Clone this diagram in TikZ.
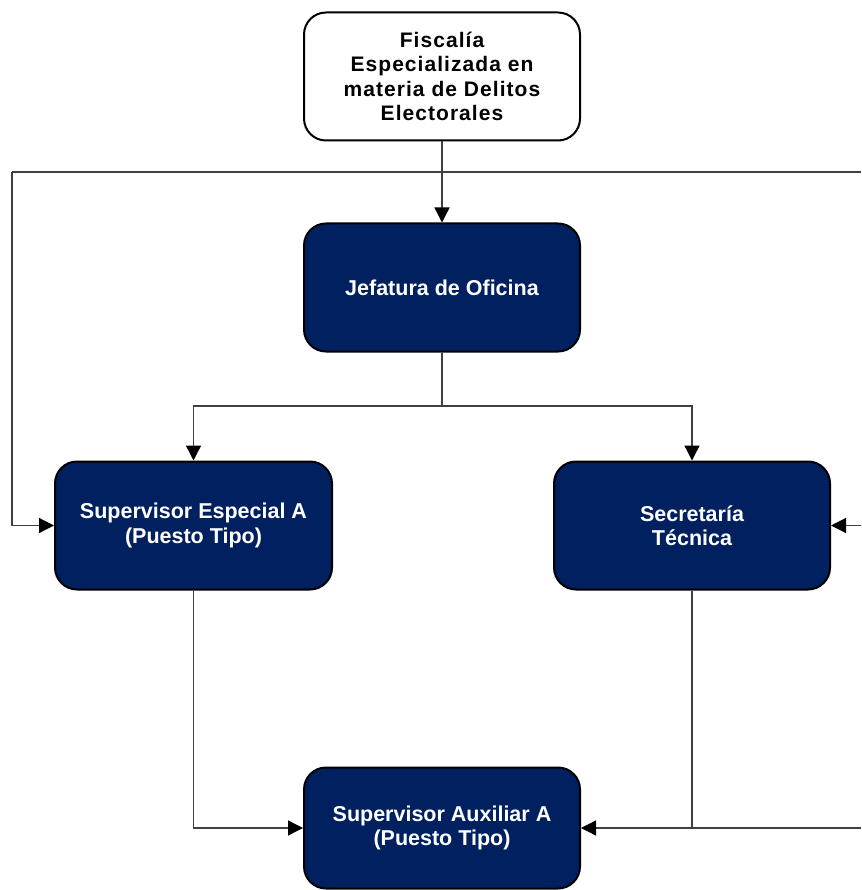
\documentclass[tikz,border=0pt]{standalone}
\usepackage{fontspec}
\setmainfont{Liberation Sans}
\newfontfamily\spacedfont[LetterSpace=5]{Liberation Sans}
\usetikzlibrary{arrows.meta}
\definecolor{navy}{HTML}{002060}
\definecolor{linegray}{HTML}{404040}
\tikzset{
  boxbase/.style={draw=black, line width=2pt, rounded corners=22pt, minimum width=276pt, minimum height=128pt, align=center, inner sep=4pt, font=\bfseries\fontsize{21.5}{24.5}\selectfont},
  whitebox/.style={boxbase, fill=white, text=black, font=\spacedfont\bfseries\fontsize{21}{24.5}\selectfont},
  navybox/.style={boxbase, fill=navy, text=white},
  conn/.style={draw=linegray, line width=1.3pt},
  arr/.style={conn, -{Triangle[length=15pt,width=15pt,fill=black,color=black]}}
}
\begin{document}
\begin{tikzpicture}[x=1pt,y=-1pt]
\useasboundingbox (0,0) rectangle (861,890);
% nodes
\node[whitebox] (fis) at (442,76.5) {Fiscalía\\Especializada en\\materia de Delitos\\Electorales};
\node[navybox] (jef) at (442,287.5) {Jefatura de Oficina};
\node[navybox, minimum width=277pt] (sup) at (193.5,525.5) {Supervisor Especial A\\(Puesto Tipo)};
\node[navybox] (sec) at (692,525.5) {Secretaría\\Técnica};
\node[navybox, minimum height=121pt] (aux) at (442,828) {Supervisor Auxiliar A\\(Puesto Tipo)};
% free ends
\coordinate (ltop) at (12,172);
\coordinate (rtop) at (861,172);
\coordinate (rmid) at (861,525.5);
\coordinate (rbot) at (861,828);
\coordinate (split) at (442,406);
% connectors
\draw[arr] (fis.south) -- (jef.north);
\draw[conn] (rtop) -- (ltop);
\draw[arr] (ltop) |- (sup.west);
\draw[arr] (rmid) -- (sec.east);
\draw[conn] (jef.south) -- (split);
\draw[arr] (split) -| (sup.north);
\draw[arr] (split) -| (sec.north);
\draw[arr] (sup.south) |- (aux.west);
\draw[conn] (sec.south) -- (sec.south |- aux.east);
\draw[arr] (rbot) -- (aux.east);
\end{tikzpicture}
\end{document}
